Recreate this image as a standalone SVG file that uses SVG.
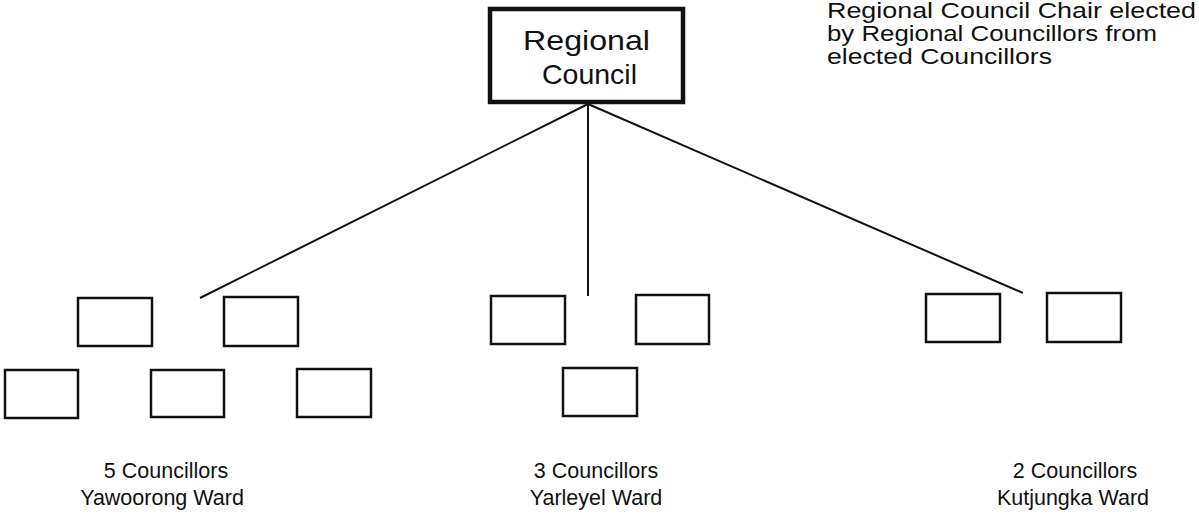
<svg xmlns="http://www.w3.org/2000/svg" width="1199" height="518" viewBox="0 0 1199 518">
<style>
.t{font-family:"Liberation Sans",Arial,sans-serif;fill:#111;}
.lbl{font-size:21.5px;text-anchor:middle;}
.box{fill:#fff;stroke:#111;stroke-width:2.5;}
.main{fill:#fff;stroke:#111;stroke-width:4.5;}
.ln{stroke:#111;stroke-width:2;fill:none;}
</style>
<rect width="1199" height="518" fill="#fff"/>
<g id="connectors">
<line class="ln" x1="588" y1="104" x2="200" y2="298"/>
<line class="ln" x1="588" y1="104" x2="588" y2="296"/>
<line class="ln" x1="588" y1="104" x2="1023" y2="293"/>
</g>
<g id="regional-council">
<rect class="main" x="490" y="9" width="193" height="93"/>
<text class="t" x="523" y="50" font-size="28" textLength="127" lengthAdjust="spacingAndGlyphs">Regional</text>
<text class="t" x="542" y="84" font-size="28" textLength="95" lengthAdjust="spacingAndGlyphs">Council</text>
</g>
<g id="chair-note">
<text class="t" font-size="22" x="827" y="18" textLength="369" lengthAdjust="spacingAndGlyphs">Regional Council Chair elected</text>
<text class="t" font-size="22" x="827" y="41" textLength="330" lengthAdjust="spacingAndGlyphs">by Regional Councillors from</text>
<text class="t" font-size="22" x="827" y="64" textLength="225" lengthAdjust="spacingAndGlyphs">elected Councillors</text>
</g>
<g id="yawoorong-ward">
<rect class="box" x="78" y="298" width="74" height="48"/>
<rect class="box" x="224" y="297" width="74" height="49"/>
<rect class="box" x="5" y="370" width="73" height="48"/>
<rect class="box" x="151" y="370" width="73" height="47"/>
<rect class="box" x="297" y="369" width="74" height="48"/>
<text class="t lbl" x="166" y="478">5 Councillors</text>
<text class="t lbl" x="162" y="505">Yawoorong Ward</text>
</g>
<g id="yarleyel-ward">
<rect class="box" x="491" y="296" width="74" height="48"/>
<rect class="box" x="636" y="295" width="73" height="49"/>
<rect class="box" x="563" y="368" width="74" height="48"/>
<text class="t lbl" x="596" y="478">3 Councillors</text>
<text class="t lbl" x="596" y="505">Yarleyel Ward</text>
</g>
<g id="kutjungka-ward">
<rect class="box" x="926" y="294" width="74" height="48"/>
<rect class="box" x="1047" y="293" width="74" height="49"/>
<text class="t lbl" x="1075" y="478">2 Councillors</text>
<text class="t lbl" x="1073" y="505">Kutjungka Ward</text>
</g>
</svg>
